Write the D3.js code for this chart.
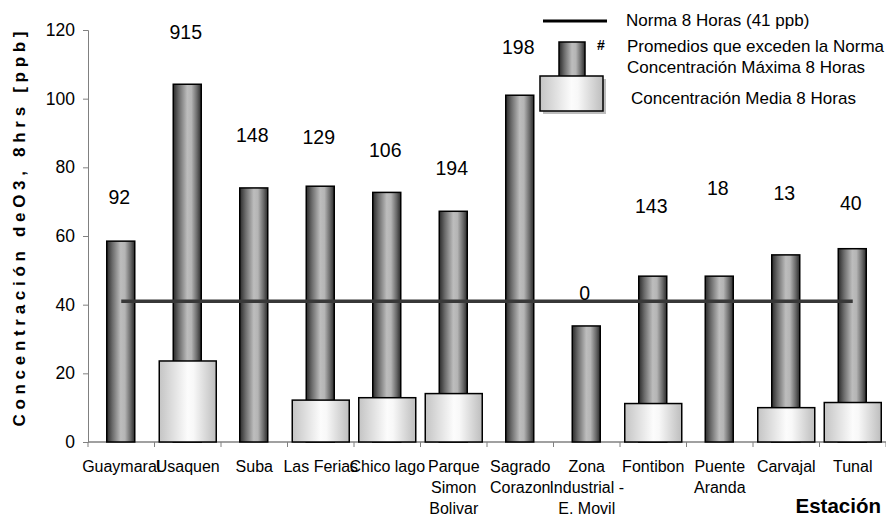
<!DOCTYPE html>
<html><head><meta charset="utf-8">
<script src="https://cdn.jsdelivr.net/npm/d3@7"></script>
<style>body{margin:0;background:#fff}svg{display:block;font-family:"Liberation Sans",Arial,sans-serif}</style>
</head><body><svg id="c" width="886" height="514"></svg>
<script>
const stations = ["Guaymaral","Usaquen","Suba","Las Ferias","Chico lago","Parque\nSimon\nBolivar","Sagrado\nCorazon","Zona\nIndustrial -\nE. Movil","Fontibon","Puente\nAranda","Carvajal","Tunal"];
const maxValues = [58.5,104.2,74,74.5,72.7,67.2,101,33.8,48.3,48.3,54.5,56.3];
const meanValues = [null,23.6,null,12.2,12.9,14.1,null,null,11.2,null,10,11.5];
const exceedCounts = ["92","915","148","129","106","194","198","0","143","18","13","40"];
const countLabelLevel = [71.4,119.4,89.4,88.8,85,79.8,115.1,43.5,68.7,74,72.5,69.6];
const norma = 41;
const yTicks = [0,20,40,60,80,100,120];

const svg = d3.select("#c");
const m = {l:88, r:0};
const W = 886;
const x = d3.scaleBand().domain(d3.range(stations.length)).range([m.l, W - m.r]).padding(0);
const y = d3.scaleLinear().domain([0,120]).range([442, 30]);

const defs = svg.append("defs");
const gd = defs.append("linearGradient").attr("id","gDark");
[[0,"#2a2a2a"],[0.2,"#6a6a6a"],[0.5,"#bdbdbd"],[0.65,"#b5b5b5"],[0.85,"#6a6a6a"],[1,"#2a2a2a"]].forEach(s=>gd.append("stop").attr("offset",s[0]).attr("stop-color",s[1]));
const gl = defs.append("linearGradient").attr("id","gLight");
[[0,"#c4c4c4"],[0.5,"#fcfcfc"],[0.6,"#f8f8f8"],[1,"#bdbdbd"]].forEach(s=>gl.append("stop").attr("offset",s[0]).attr("stop-color",s[1]));

// axes
const yAxis = d3.axisLeft(y).tickValues(yTicks).tickSize(5).tickPadding(8);
const gy = svg.append("g").attr("transform",`translate(${m.l},0)`).call(yAxis);
gy.select(".domain").attr("stroke","#808080");
gy.selectAll(".tick line").attr("stroke","#808080");
gy.selectAll(".tick text").attr("font-size",17.5).attr("fill","#000").attr("font-family","Liberation Sans, Arial, sans-serif");

const xg = svg.append("g");
xg.append("line").attr("x1",m.l).attr("x2",W).attr("y1",y(0)).attr("y2",y(0)).attr("stroke","#808080").attr("stroke-width",1.5);
xg.selectAll("line.tk").data(d3.range(stations.length+1)).join("line").attr("class","tk")
  .attr("x1",i=>m.l + i*x.bandwidth()).attr("x2",i=>m.l + i*x.bandwidth())
  .attr("y1",y(0)).attr("y2",y(0)+5).attr("stroke","#808080");

const bw = x.bandwidth();
// dark bars (max)
svg.append("g").selectAll("rect").data(maxValues).join("rect")
  .attr("x",(d,i)=>x(i)+bw/2-14.5).attr("width",28)
  .attr("y",d=>y(d)).attr("height",d=>y(0)-y(d))
  .attr("fill","url(#gDark)").attr("stroke","#000").attr("stroke-width",1.5);
// light bars (mean)
svg.append("g").selectAll("rect").data(meanValues.map((v,i)=>({v,i})).filter(d=>d.v!=null)).join("rect")
  .attr("x",d=>x(d.i)+bw/2-28.5).attr("width",57)
  .attr("y",d=>y(d.v)).attr("height",d=>y(0)-y(d.v))
  .attr("fill","url(#gLight)").attr("stroke","#000").attr("stroke-width",1.5);

// norma line
svg.append("line").attr("x1",x(0)+bw/2).attr("x2",x(stations.length-1)+bw/2)
  .attr("y1",y(norma)).attr("y2",y(norma)).attr("stroke","#383838").attr("stroke-width",3.5);

// count labels
svg.append("g").selectAll("text").data(exceedCounts).join("text")
  .attr("x",(d,i)=>x(i)+bw/2-2).attr("y",(d,i)=>y(countLabelLevel[i]))
  .attr("text-anchor","middle").attr("dominant-baseline","central")
  .attr("font-size",19.5).text(d=>d);

// category labels
const cl = svg.append("g").selectAll("text").data(stations).join("text")
  .attr("text-anchor","middle").attr("dominant-baseline","central").attr("font-size",16);
cl.each(function(d,i){
  const t = d3.select(this);
  d.split("\n").forEach((ln,k)=>t.append("tspan").attr("x",x(i)+bw/2).attr("y",466+k*20.8).text(ln));
});

// axis titles
svg.append("text").attr("transform","translate(19,229) rotate(-90)").attr("text-anchor","middle")
  .attr("dominant-baseline","central").attr("font-size",17).attr("font-weight","bold")
  .attr("textLength",395).attr("lengthAdjust","spacing")
  .text("Concentración deO3, 8hrs  [ppb]");
svg.append("text").attr("x",881).attr("y",505).attr("text-anchor","end").attr("dominant-baseline","central")
  .attr("font-size",20.5).attr("font-weight","bold").text("Estación");

// legend
const lg = svg.append("g");
lg.append("line").attr("x1",543).attr("x2",607).attr("y1",21).attr("y2",21).attr("stroke","#000").attr("stroke-width",3);
lg.append("text").attr("x",626).attr("y",20).attr("dominant-baseline","central").attr("font-size",17).text("Norma 8 Horas (41 ppb)");
lg.append("rect").attr("x",559).attr("y",42).attr("width",26).attr("height",36).attr("fill","url(#gDark)").attr("stroke","#000").attr("stroke-width",1.5);
lg.append("rect").attr("x",543).attr("y",79).attr("width",63).attr("height",35).attr("fill","#bdbdbd");
lg.append("rect").attr("x",540).attr("y",76).attr("width",63).attr("height",35).attr("fill","url(#gLight)").attr("stroke","#000").attr("stroke-width",1.5);
lg.append("text").attr("x",597).attr("y",45).attr("dominant-baseline","central").attr("font-size",14).attr("font-weight","bold").text("#");
lg.append("text").attr("x",627).attr("y",46).attr("dominant-baseline","central").attr("font-size",17).text("Promedios que exceden la Norma");
lg.append("text").attr("x",627).attr("y",67).attr("dominant-baseline","central").attr("font-size",17).text("Concentración Máxima 8 Horas");
lg.append("text").attr("x",631).attr("y",98).attr("dominant-baseline","central").attr("font-size",17).text("Concentración Media 8 Horas");
</script></body></html>
